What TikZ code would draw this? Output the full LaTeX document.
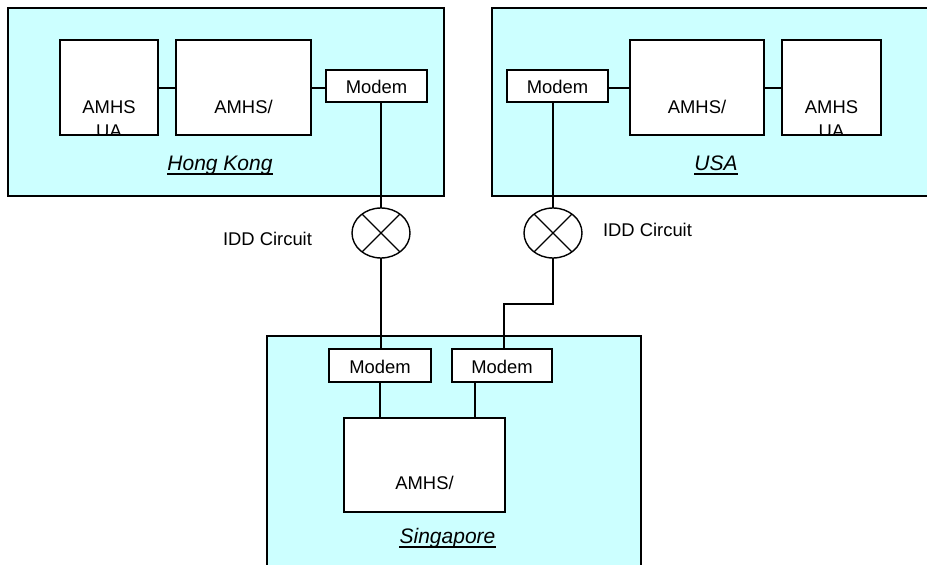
\documentclass[tikz,border=0pt]{standalone}
\usepackage{fontspec}
\setmainfont{Liberation Sans}
\usetikzlibrary{shapes.geometric}

\definecolor{regionfill}{HTML}{CCFFFF}
\tikzset{
  wire/.style={line width=1.4pt, draw=black},
  region/.style={draw=black, line width=1.4pt, fill=regionfill, inner sep=0pt, outer sep=0pt, anchor=north west},
  unit/.style={draw=black, line width=1.4pt, fill=white, inner sep=0pt, outer sep=0pt, anchor=north west},
  txt/.style={inner sep=0pt, font=\fontsize{18.4}{22}\selectfont, anchor=base},
  place/.style={inner sep=0pt, font=\fontsize{21}{25}\selectfont\itshape, anchor=base},
  circuit/.style={ellipse, draw=black, line width=1.4pt, fill=white, minimum width=58pt, minimum height=50pt, inner sep=0pt, outer sep=0pt},
}

\begin{document}
\begin{tikzpicture}[x=1pt, y=-1pt]
\useasboundingbox (0,0) rectangle (927,565);
\clip (0,0) rectangle (927,565);

% regions
\node[region, minimum width=436pt, minimum height=188pt] (hk) at (8,8) {};
\node[region, minimum width=448pt, minimum height=188pt] (us) at (492,8) {};
\node[region, minimum width=374pt, minimum height=244pt] (sg) at (267,336) {};

% Hong Kong equipment
\node[unit, minimum width=98pt, minimum height=95pt] (hkua) at (60,40) {};
\node[unit, minimum width=135pt, minimum height=95pt] (hkmta) at (176,40) {};
\node[unit, minimum width=101pt, minimum height=32pt] (hkmodem) at (326,70) {};

% USA equipment
\node[unit, minimum width=101pt, minimum height=32pt] (usmodem) at (507,70) {};
\node[unit, minimum width=134pt, minimum height=95pt] (usmta) at (630,40) {};
\node[unit, minimum width=99pt, minimum height=95pt] (usua) at (782,40) {};

% Singapore equipment
\node[unit, minimum width=102pt, minimum height=33pt] (sgmodemA) at (329,349) {};
\node[unit, minimum width=100pt, minimum height=33pt] (sgmodemB) at (452,349) {};
\node[unit, minimum width=161pt, minimum height=94pt] (sgmta) at (344,418) {};

% texts in the boxes
\node[txt] at ([yshift=-73pt]hkmta.north) {AMHS/};
\node[txt] at ([yshift=-73pt]usmta.north) {AMHS/};
\node[txt] at ([yshift=-71pt]sgmta.north) {AMHS/};
\node[txt, anchor=center] at ([yshift=-1pt]hkmodem.center) {Modem};
\node[txt, anchor=center] at ([yshift=-1pt]usmodem.center) {Modem};
\node[txt, anchor=center] at ([yshift=-1pt]sgmodemA.center) {Modem};
\node[txt, anchor=center] at ([yshift=-1pt]sgmodemB.center) {Modem};
\begin{scope}
  \clip (hkua.south west) rectangle (hkua.north east);
  \node[txt] at ([yshift=-73pt]hkua.north) {AMHS};
  \node[txt] at ([yshift=-97pt]hkua.north) {UA};
\end{scope}
\begin{scope}
  \clip (usua.south west) rectangle (usua.north east);
  \node[txt] at ([yshift=-73pt]usua.north) {AMHS};
  \node[txt] at ([yshift=-97pt]usua.north) {UA};
\end{scope}

% place names, underlined
\node[place] (hkname) at (220,170) {Hong Kong};
\node[place] (usname) at (716,170) {USA};
\node[place] (sgname) at (447.5,543) {Singapore};
\foreach \n in {hkname,usname,sgname}
  \draw[line width=1.2pt] ([yshift=-4pt]\n.base west) -- ([yshift=-4pt]\n.base east);

% circuits
\node[circuit] (cA) at (381,233) {};
\node[circuit] (cB) at (553,233) {};
\foreach \c in {cA,cB} {
  \draw[wire] (\c.45) -- (\c.225);
  \draw[wire] (\c.135) -- (\c.315);
}
\node[txt] (lblA) at (267.5,245) {IDD Circuit};
\node[txt] (lblB) at (647.5,236) {IDD Circuit};

% links inside the regions
\draw[wire] (hkua.east |- 0,88) -- (hkmta.west |- 0,88);
\draw[wire] (hkmta.east |- 0,88) -- (hkmodem.west |- 0,88);
\draw[wire] (usmodem.east |- 0,88) -- (usmta.west |- 0,88);
\draw[wire] (usmta.east |- 0,88) -- (usua.west |- 0,88);
\draw[wire] (sgmodemA.south -| 380,0) -- (sgmta.north -| 380,0);
\draw[wire] (sgmodemB.south -| 475,0) -- (sgmta.north -| 475,0);

% long-distance circuits
\draw[wire] (hkmodem.south -| cA.north) -- (cA.north);
\draw[wire] (cA.south) -- (sgmodemA.north -| cA.south);
\draw[wire] (usmodem.south -| cB.north) -- (cB.north);
\coordinate (bend) at (504,304);
\draw[wire] (cB.south) |- (bend) -- (sgmodemB.north -| bend);
\end{tikzpicture}
\end{document}
